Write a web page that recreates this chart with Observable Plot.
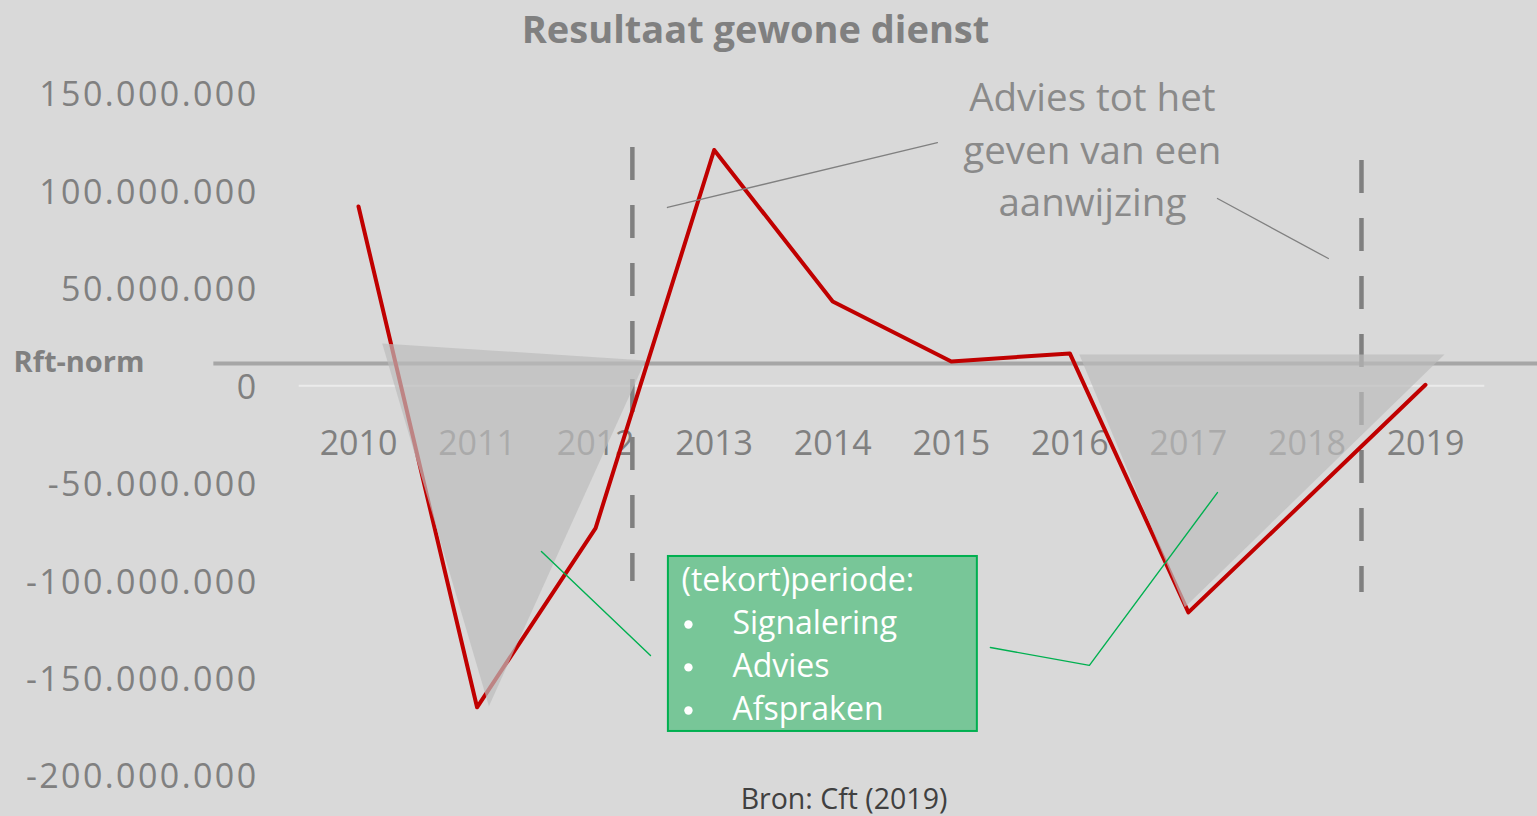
<!DOCTYPE html>
<html><head><meta charset="utf-8">
<script src="https://cdn.jsdelivr.net/npm/d3@7"></script>
<script src="https://cdn.jsdelivr.net/npm/@observablehq/plot@0.6"></script>
<style>
html,body{margin:0;padding:0;background:#d9d9d9;}
#wrap{position:relative;width:1537px;height:816px;overflow:hidden;font-family:"Open Sans",sans-serif;}
#chart{position:absolute;left:0;top:0;}
#title{position:absolute;left:0;width:1511px;top:4px;text-align:center;font-weight:700;font-size:38px;color:#808080;line-height:48px;}
#caption{position:absolute;left:844px;transform:translateX(-50%);top:780px;font-size:28.5px;color:#404040;line-height:36px;white-space:nowrap;}
g[aria-label="y-axis tick label"], g[aria-label="year labels"]{letter-spacing:2.4px;}
</style></head>
<body>
<div id="wrap">
  <div id="chart"></div>
  <div id="title">Resultaat gewone dienst</div>
  <div id="caption">Bron: Cft (2019)</div>
</div>
<script>
// ---- data ----
const years = [2010, 2011, 2012, 2013, 2014, 2015, 2016, 2017, 2018, 2019];
const resultaat = [92e6, -165e6, -73e6, 121e6, 43.3e6, 12.5e6, 16.6e6, -116.3e6, -58e6, 0.5e6];
const yTicks = [150e6, 100e6, 50e6, 0, -50e6, -100e6, -150e6, -200e6];
const rftNorm = 11.4e6;
const rftLabel = "Rft-norm";
// aanwijzing-periode grenzen (jaar)
const dashYears = [2012.31, 2018.46];
const dashTop = [122.3e6, 115.6e6];
const dashBottom = [-100.4e6, -106.1e6];
// grijze tekortperiode-driehoeken
const triId = ["a", "a", "a", "b", "b", "b"];
const triX = [2010.20, 2012.42, 2011.10, 2016.08, 2019.16, 2016.97];
const triY = [21.7e6, 13.0e6, -164.4e6, 16.1e6, 16.1e6, -113.7e6];
// annotaties
const adviesLines = ["Advies tot het", "geven van een", "aanwijzing"];
const adviesX = 2016.19;
const adviesY = [147.4e6, 120.2e6, 93.5e6];
const grayLeaderId = ["a", "a", "b", "b"];
const grayLeaderX = [2012.606, 2014.883, 2017.245, 2018.181];
const grayLeaderY = [91.5e6, 124.8e6, 96.1e6, 65.3e6];
const greenLeaderId = ["a", "a", "b", "b", "b"];
const greenLeaderX = [2011.543, 2012.463, 2015.330, 2016.165, 2017.245];
const greenLeaderY = [-85.0e6, -138.4e6, -134.3e6, -143.5e6, -54.8e6];
const boxX = [2012.614, 2015.22];
const boxY = [-87.6e6, -177.4e6];
const boxHeader = "(tekort)periode:";
const boxItems = ["Signalering", "Advies", "Afspraken"];
const boxHeaderX = 2012.724, boxHeaderY = -99.9e6;
const bulletX = 2012.783, itemX = 2013.154;
const itemY = [-122.0e6, -144.0e6, -166.1e6];

// ---- tables ----
const series = years.map((y, i) => ({year: y, value: resultaat[i]}));
const tri = triX.map((x, i) => ({id: triId[i], x, y: triY[i]}));
const gLead = grayLeaderX.map((x, i) => ({id: grayLeaderId[i], x, y: grayLeaderY[i]}));
const grLead = greenLeaderX.map((x, i) => ({id: greenLeaderId[i], x, y: greenLeaderY[i]}));
const dashes = dashYears.map((x, i) => ({x, y1: dashTop[i], y2: dashBottom[i]}));
const advies = adviesLines.map((t, i) => ({t, y: adviesY[i]}));
const items = boxItems.map((t, i) => ({t, y: itemY[i]}));

const fmt = d => (d < 0 ? "-" : "") + d3.format(",")(Math.abs(d)).replace(/,/g, ".");

const chart = Plot.plot({
  width: 1537, height: 816,
  marginLeft: 358, marginRight: 112, marginTop: 93, marginBottom: 41,
  x: {domain: [2010, 2019], axis: null},
  y: {domain: [-200e6, 150e6]},
  style: {background: "transparent", fontFamily: "Open Sans, sans-serif", fontSize: "34px", color: "#808080", overflow: "visible"},
  marks: [
    Plot.ruleY([0], {x1: 2009.5, x2: 2019.5, stroke: "#ebebeb", strokeWidth: 2}),
    Plot.ruleY([rftNorm], {x1: 2008.78, x2: 2021.2, stroke: "#a6a6a6", strokeWidth: 4}),
    Plot.axisY({ticks: yTicks, tickFormat: fmt, tickSize: 0, tickPadding: 100, dy: 2, fontSize: 34, label: null, fill: "#808080"}),
    Plot.text(years, {x: d => d, y: 0, dy: 58, text: d => String(d), fontSize: 34, fill: "#808080", ariaLabel: "year labels"}),
    Plot.text([rftLabel], {x: 2007.09, y: rftNorm, dy: -1, text: d => d, textAnchor: "start", fontSize: 29, fontWeight: 700, fill: "#808080"}),
    Plot.ruleX(dashes, {x: "x", y1: "y1", y2: "y2", stroke: "#808080", strokeWidth: 4.5, strokeDasharray: "33,25"}),
    Plot.line(series, {x: "year", y: "value", stroke: "#c00000", strokeWidth: 4, strokeLinejoin: "round", strokeLinecap: "round"}),
    Plot.line(tri, {x: "x", y: "y", z: "id", fill: "#bcbcbc", fillOpacity: 0.7, stroke: "none"}),
    Plot.line(gLead, {x: "x", y: "y", z: "id", stroke: "#808080", strokeWidth: 1.3}),
    Plot.text(advies, {x: adviesX, y: "y", text: "t", fontSize: 38.5, fill: "#8a8a8a"}),
    Plot.line(grLead, {x: "x", y: "y", z: "id", stroke: "#00b050", strokeWidth: 1.4}),
    Plot.rect([0], {x1: boxX[0], x2: boxX[1], y1: boxY[0], y2: boxY[1], fill: "#78c698", stroke: "#00b050", strokeWidth: 2}),
    Plot.text([boxHeader], {x: boxHeaderX, y: boxHeaderY, text: d => d, textAnchor: "start", fontSize: 32, fill: "white"}),
    Plot.dot(items, {x: bulletX, y: "y", r: 4.2, dy: 1, fill: "white", stroke: "none"}),
    Plot.text(items, {x: itemX, y: "y", text: "t", textAnchor: "start", fontSize: 32, fill: "white"})
  ]
});
document.getElementById("chart").appendChild(chart);
</script>
</body></html>
